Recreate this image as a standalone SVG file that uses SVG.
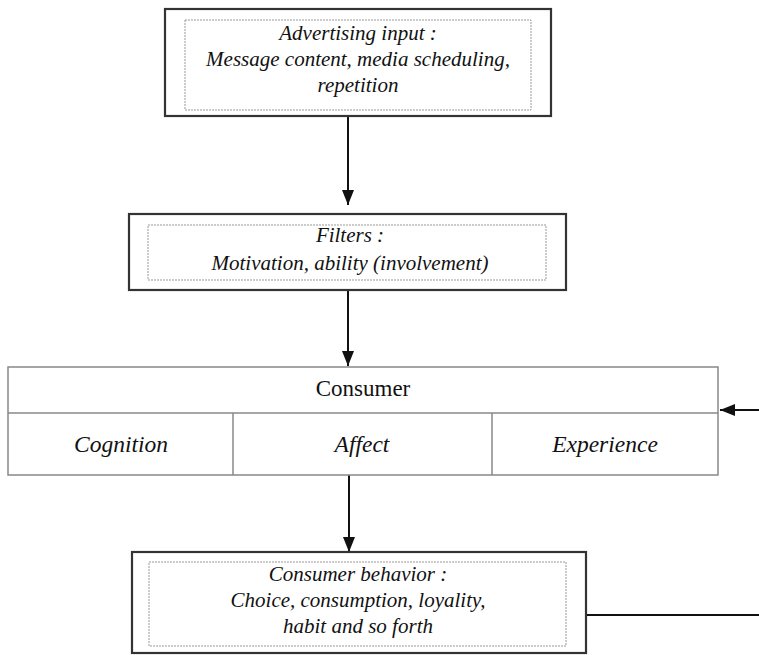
<svg xmlns="http://www.w3.org/2000/svg" width="759" height="655" viewBox="0 0 759 655">
<defs>
<style>
.outer{fill:#fff;stroke:#333;stroke-width:2.2}
.inner{fill:none;stroke:#999;stroke-width:1;stroke-dasharray:2 1}
.cons{fill:#fff;stroke:#888;stroke-width:1.5}
.t{font-family:"Liberation Serif","Times New Roman",serif;font-size:21px;font-style:italic;fill:#111;text-anchor:middle}
.c{font-family:"Liberation Serif","Times New Roman",serif;font-size:23.5px;font-style:italic;fill:#111;text-anchor:middle}
.n{font-family:"Liberation Serif","Times New Roman",serif;font-size:23px;fill:#111;text-anchor:middle}
.conn{stroke:#111;stroke-width:2;fill:none}
</style>
<marker id="ah" markerWidth="15" markerHeight="12" refX="15" refY="6" orient="auto" markerUnits="userSpaceOnUse">
<path d="M0,0 L15,6 L0,12 Z" fill="#111"/>
</marker>
</defs>
<rect width="759" height="655" fill="#fff"/>
<g id="connectors">
<line class="conn" x1="348" y1="116" x2="348" y2="205" marker-end="url(#ah)"/>
<line class="conn" x1="348" y1="290" x2="348" y2="366" marker-end="url(#ah)"/>
<line class="conn" x1="349" y1="475" x2="349" y2="552" marker-end="url(#ah)"/>
<line class="conn" x1="586" y1="615" x2="759" y2="615"/>
<line class="conn" x1="759" y1="410" x2="720" y2="410" marker-end="url(#ah)"/>
</g>
<g id="advertising-input">
<rect class="outer" x="165" y="9" width="386" height="107"/>
<rect class="inner" x="185" y="20" width="346" height="90"/>
<text class="t" x="358" y="40">Advertising input :</text>
<text class="t" x="358" y="66">Message content, media scheduling,</text>
<text class="t" x="358" y="92">repetition</text>
</g>
<g id="filters">
<rect class="outer" x="129" y="214" width="437" height="76"/>
<rect class="inner" x="148" y="225" width="398" height="55"/>
<text class="t" x="350" y="242">Filters :</text>
<text class="t" x="350" y="270">Motivation, ability (involvement)</text>
</g>
<g id="consumer">
<rect class="cons" x="8" y="367" width="710" height="108"/>
<line class="cons" x1="8" y1="413" x2="718" y2="413"/>
<line class="cons" x1="233" y1="413" x2="233" y2="475"/>
<line class="cons" x1="492" y1="413" x2="492" y2="475"/>
<text class="n" x="363" y="396">Consumer</text>
<text class="c" x="121" y="452">Cognition</text>
<text class="c" x="362" y="452">Affect</text>
<text class="c" x="605" y="452">Experience</text>
</g>
<g id="consumer-behavior">
<rect class="outer" x="132" y="552" width="454" height="101"/>
<rect class="inner" x="149" y="562" width="417" height="84"/>
<text class="t" x="358" y="581">Consumer behavior :</text>
<text class="t" x="358" y="607">Choice, consumption, loyality,</text>
<text class="t" x="358" y="633">habit and so forth</text>
</g>
</svg>
